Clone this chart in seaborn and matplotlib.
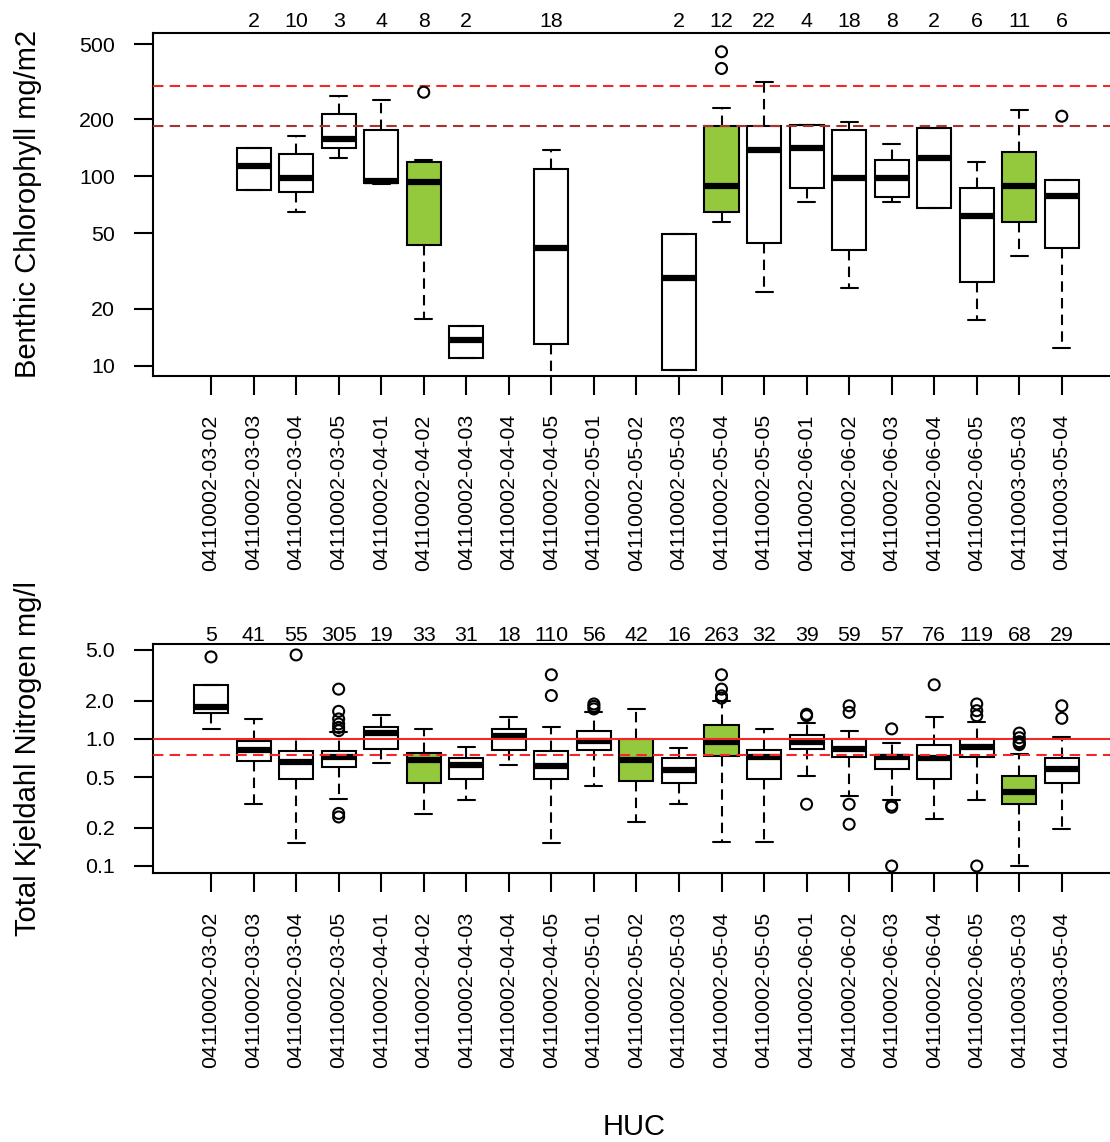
import pandas as pd
import matplotlib
matplotlib.use("Agg")
import matplotlib.pyplot as plt
import seaborn as sns
from matplotlib.ticker import NullLocator

# HUC categories (x axis)
huc = [
    "04110002-03-02", "04110002-03-03", "04110002-03-04", "04110002-03-05",
    "04110002-04-01", "04110002-04-02", "04110002-04-03", "04110002-04-04",
    "04110002-04-05", "04110002-05-01", "04110002-05-02", "04110002-05-03",
    "04110002-05-04", "04110002-05-05", "04110002-06-01", "04110002-06-02",
    "04110002-06-03", "04110002-06-04", "04110002-06-05", "04110003-05-03",
    "04110003-05-04",
]

# Benthic chlorophyll (mg/m2): sample counts and box summaries
chl_n = [None, 2, 10, 3, 4, 8, 2, None, 18, None, None, 2, 12, 22, 4, 18, 8, 2, 6, 11, 6]
chl_lo = [None, 84.3, 64.8, 124.5, 91.2, 17.7, 10.9, None, 7.0, None, None,
          9.47, 57.3, 24.4, 73.2, 25.6, 73.2, 67.7, 17.4, 37.7, 12.3]
chl_q1 = [None, 84.3, 82.3, 140.6, 92.6, 43.6, 10.9, None, 12.95, None, None,
          9.47, 64.8, 44.7, 86.4, 40.9, 78.1, 67.7, 27.5, 57.3, 41.8]
chl_med = [None, 113, 98.1, 158.4, 94.1, 93.4, 13.6, None, 41.8, None, None,
           29.0, 89.3, 138, 141.4, 98.1, 98.1, 125.2, 61.4, 89.3, 78.3]
chl_q3 = [None, 141, 131.4, 214, 176, 119.2, 16.1, None, 109.9, None, None,
          49.5, 184, 184, 186, 175, 121.6, 179.6, 86.4, 134, 95.3]
chl_hi = [None, 141, 163, 265, 252.6, 121.6, 16.1, None, 137.3, None, None,
          49.5, 229, 314.6, 187, 193, 147.7, 179.6, 118.6, 223, 95.3]
chl_out_huc = ["04110002-04-02", "04110002-05-04", "04110002-05-04", "04110003-05-04"]
chl_out_val = [278.6, 456, 372, 208]
chl_green = ["04110002-04-02", "04110002-05-04", "04110003-05-03"]
chl_refs = [300, 184]

# Total Kjeldahl nitrogen (mg/l)
tkn_n = [5, 41, 55, 305, 19, 33, 31, 18, 110, 56, 42, 16, 263, 32, 39, 59, 57, 76, 119, 68, 29]
tkn_lo = [1.20, 0.306, 0.153, 0.339, 0.649, 0.255, 0.329, 0.626, 0.153, 0.423, 0.221,
          0.306, 0.154, 0.154, 0.507, 0.353, 0.329, 0.236, 0.329, 0.10, 0.197]
tkn_q1 = [1.60, 0.673, 0.486, 0.599, 0.835, 0.452, 0.486, 0.81, 0.486, 0.81, 0.466,
          0.452, 0.727, 0.483, 0.835, 0.718, 0.578, 0.483, 0.718, 0.306, 0.45]
tkn_med = [1.79, 0.820, 0.656, 0.718, 1.106, 0.676, 0.626, 1.048, 0.607, 0.97, 0.676,
           0.565, 0.94, 0.718, 0.936, 0.835, 0.718, 0.705, 0.87, 0.382, 0.582]
tkn_q3 = [2.66, 0.958, 0.805, 0.805, 1.25, 0.777, 0.705, 1.198, 0.805, 1.16, 1.0,
          0.701, 1.287, 0.81, 1.075, 1.0, 0.75, 0.898, 1.0, 0.507, 0.701]
tkn_hi = [2.66, 1.434, 1.0, 1.126, 1.54, 1.198, 0.866, 1.487, 1.25, 1.615, 1.705,
          0.84, 1.995, 1.198, 1.325, 1.16, 0.93, 1.487, 1.349, 0.763, 1.036]
tkn_out_huc = (["04110002-03-02", "04110002-03-04"]
               + ["04110002-03-05"] * 8
               + ["04110002-04-05"] * 2
               + ["04110002-05-01"] * 3
               + ["04110002-05-04"] * 4
               + ["04110002-06-01"] * 3
               + ["04110002-06-02"] * 4
               + ["04110002-06-03"] * 4
               + ["04110002-06-04"]
               + ["04110002-06-05"] * 4
               + ["04110003-05-03"] * 5
               + ["04110003-05-04"] * 2)
tkn_out_val = ([4.41, 4.57]
               + [2.46, 1.645, 1.434, 1.31, 1.23, 1.16, 0.259, 0.243]
               + [3.19, 2.19]
               + [1.88, 1.80, 1.72]
               + [3.19, 2.46, 2.18, 2.09]
               + [1.56, 1.52, 0.306]
               + [1.82, 1.615, 0.306, 0.213]
               + [1.198, 0.30, 0.29, 0.10]
               + [2.66]
               + [1.88, 1.665, 1.52, 0.10]
               + [1.11, 1.02, 0.95, 0.92, 0.90]
               + [1.82, 1.45])
tkn_green = ["04110002-04-02", "04110002-05-02", "04110002-05-04", "04110003-05-03"]
tkn_refs = [1.0, 0.75]

GREEN = "#95C93D"

sns.set_style("ticks")
plt.rcParams["font.family"] = ["Liberation Sans", "DejaVu Sans"]
plt.rcParams["text.color"] = "black"


def box_table(lo, q1, med, q3, hi):
    # five summary values per HUC; whis=(0, 100) turns them back into the same box
    rows = []
    for h, vals in zip(huc, zip(lo, q1, med, q3, hi)):
        if vals[0] is None:
            continue
        for v in vals:
            rows.append((h, v))
    return pd.DataFrame(rows, columns=["huc", "value"])


def draw_panel(ax, box_df, out_df, counts, green, ylim, yticks, yticklabels,
               refs, ref_colors, ref_styles, count_pad):
    pal = {h: (GREEN if h in green else "white") for h in huc}
    sns.boxplot(data=box_df, x="huc", y="value", hue="huc", order=huc,
                hue_order=huc, palette=pal, saturation=1, legend=False,
                whis=(0, 100), width=0.8, linecolor="black", linewidth=1.5,
                log_scale=True,
                medianprops=dict(linewidth=4.5, solid_capstyle="butt"),
                whiskerprops=dict(linestyle=(0, (5, 3))), ax=ax)
    sns.stripplot(data=out_df, x="huc", y="value", order=huc, jitter=False,
                  color="black", facecolor="none", edgecolor="black",
                  linewidth=1.5, size=7.9, log_scale=True, zorder=4, ax=ax)

    for v, c, s in zip(refs, ref_colors, ref_styles):
        ax.axhline(v, color=c, linestyle=s, linewidth=1.5, zorder=3)

    for i, n in enumerate(counts):
        if n is None:
            continue
        ax.annotate(str(n), xy=(i, 1), xycoords=("data", "axes fraction"),
                    xytext=(0, count_pad), textcoords="offset points",
                    ha="center", va="baseline", fontsize=15.4, color="black")

    ax.set_xlim(-1.357, 21.25)
    ax.set_ylim(*ylim)
    ax.set_yticks(yticks)
    ax.set_yticklabels(yticklabels)
    ax.yaxis.set_minor_locator(NullLocator())
    ax.set_xlabel("")
    ax.set_ylabel("")
    ax.tick_params(axis="both", length=13.5, width=1.5, pad=14, labelsize=15.4,
                   color="black", labelcolor="black", direction="out",
                   bottom=True, left=True)
    ax.tick_params(axis="x", labelrotation=90)
    for sp in ax.spines.values():
        sp.set_visible(True)
        sp.set_color("black")
        sp.set_linewidth(1.5)


fig = plt.figure(figsize=(11.1, 11.42), dpi=100)
W, H = 1110, 1142
left = 153.3 / W
width = (1115 - 153.3) / W
ax1 = fig.add_axes([left, (H - 376) / H, width, (376 - 32.7) / H])
ax2 = fig.add_axes([left, (H - 873.3) / H, width, (873.3 - 644) / H])

chl_box = box_table(chl_lo, chl_q1, chl_med, chl_q3, chl_hi)
chl_out = pd.DataFrame({"huc": chl_out_huc, "value": chl_out_val})
draw_panel(ax1, chl_box, chl_out, chl_n, chl_green, (8.8, 575),
           [10, 20, 50, 100, 200, 500], ["10", "20", "50", "100", "200", "500"],
           chl_refs, ["#F02828", "#A83232"], [(0, (5, 3)), (0, (5, 3))], 4.3)

tkn_box = box_table(tkn_lo, tkn_q1, tkn_med, tkn_q3, tkn_hi)
tkn_out = pd.DataFrame({"huc": tkn_out_huc, "value": tkn_out_val})
draw_panel(ax2, tkn_box, tkn_out, tkn_n, tkn_green, (0.0876, 5.57),
           [0.1, 0.2, 0.5, 1.0, 2.0, 5.0], ["0.1", "0.2", "0.5", "1.0", "2.0", "5.0"],
           tkn_refs, ["#F02828", "#F02828"], ["-", (0, (5, 3))], 2.4)

fig.text(35.8 / W, (H - 204) / H, "Benthic Chlorophyll mg/m2", rotation=90,
         rotation_mode="anchor", ha="center", va="baseline", fontsize=21)
fig.text(35.8 / W, (H - 758.6) / H, "Total Kjeldahl Nitrogen mg/l", rotation=90,
         rotation_mode="anchor", ha="center", va="baseline", fontsize=21)
fig.text(634 / W, (H - 1135) / H, "HUC", ha="center", va="baseline", fontsize=21)

fig.savefig("out.png", dpi=100)
